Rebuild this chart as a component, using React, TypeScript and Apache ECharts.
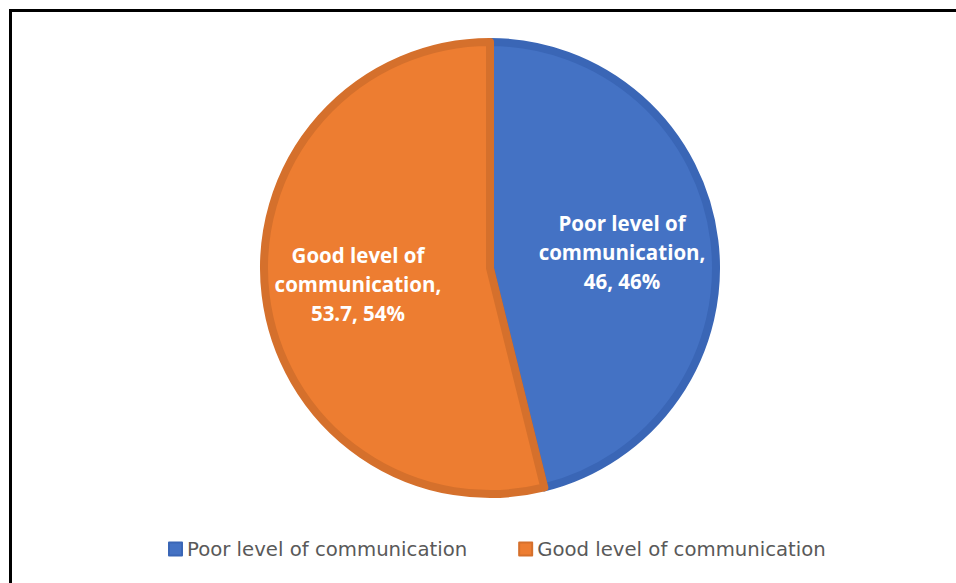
import React, { useEffect, useRef } from "react";
import * as echarts from "echarts";

const categories = ["Poor level of communication", "Good level of communication"];
const values = [46, 53.7];
const labelLines = [["Poor level of", "communication,"], ["Good level of", "communication,"]];
const fillColors = ["#4472C4", "#ED7D31"];
const borderColors = ["#3A66B6", "#D5702C"];

export default function App() {
  const ref = useRef<HTMLDivElement>(null);
  useEffect(() => {
    document.body.style.margin = "0";
    const chart = echarts.init(ref.current!, null, { renderer: "svg" });
    chart.setOption({
      animation: false,
      backgroundColor: "#ffffff",
      graphic: [
        {
          type: "rect",
          shape: { x: 10.5, y: 10.5, width: 1000, height: 1000 },
          style: { fill: "none", stroke: "#000000", lineWidth: 3 },
          silent: true,
        },
      ],
      legend: {
        left: 163,
        top: 534,
        itemWidth: 13,
        itemHeight: 13,
        itemGap: 51,
        icon: "rect",
        textStyle: { fontFamily: "DejaVu Sans", fontSize: 19.7, color: "#595959" },
        data: categories,
      },
      series: [
        {
          type: "pie",
          center: [490, 268],
          radius: 226,
          startAngle: 90,
          clockwise: true,
          label: { show: false },
          labelLine: { show: false },
          data: categories.map((c, i) => ({
            name: c,
            value: values[i],
            itemStyle: { color: fillColors[i], borderColor: borderColors[i], borderWidth: 8 },
          })),
        },
        {
          type: "pie",
          center: [490, 268],
          radius: 260,
          startAngle: 90,
          clockwise: true,
          silent: true,
          percentPrecision: 0,
          z: 3,
          itemStyle: { color: "rgba(0,0,0,0)", borderWidth: 0 },
          emphasis: { disabled: true },
          label: {
            show: true,
            position: "inside",
            color: "#ffffff",
            fontFamily: "Open Sans",
            fontWeight: "bold",
            fontSize: 20.5,
            lineHeight: 29,
            align: "center",
            formatter: (p: any) =>
              labelLines[p.dataIndex].join("\n") + "\n" + p.value + ", " + p.percent + "%",
          },
          labelLine: { show: false },
          data: categories.map((c, i) => ({ name: c, value: values[i] })),
        },
      ],
    });
    return () => chart.dispose();
  }, []);
  return <div ref={ref} style={{ width: 956, height: 583 }} />;
}
